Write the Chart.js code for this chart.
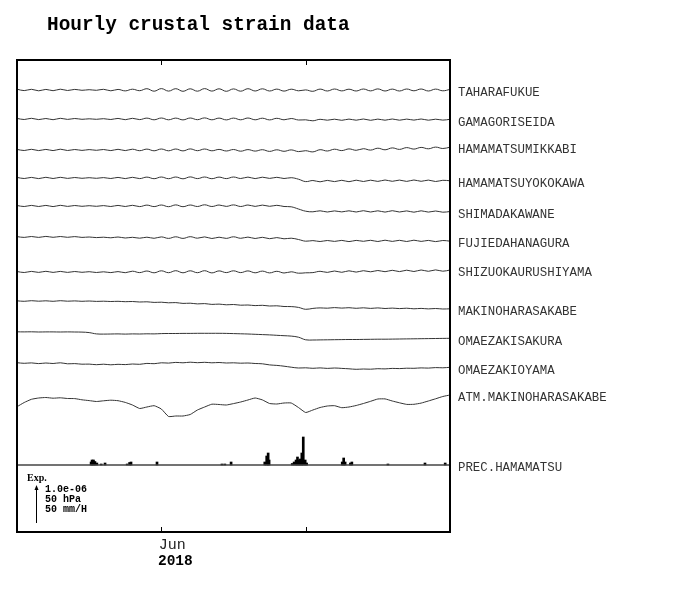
<!DOCTYPE html>
<html>
<head>
<meta charset="utf-8">
<title>Hourly crustal strain data</title>
<script src="https://cdn.jsdelivr.net/npm/chart.js@4.4.0/dist/chart.umd.min.js"></script>
<style>
  body { margin: 0; background: #fff; }
  #wrap { width: 700px; height: 590px; }
</style>
</head>
<body>
<div id="wrap"><canvas id="strainChart" width="700" height="590"></canvas></div>
<script>
// ---------- data ----------
const chartTitle = 'Hourly crustal strain data';
const xMin = 0, xMax = 90;          // days
const xTicks = [30, 60];
const monthLabel = 'Jun';
const yearLabel = '2018';
const scaleLabels = ['1.0e-06', '50 hPa', '50 mm/H'];
const scaleLength = 38;             // one scale arrow, in plot units

const days = [0,1.5,3,4.5,6,7.5,9,10.5,12,13.5, 15,16.5,18,19.5,21,22.5,24,25.5,27,28.5,
  30,31.5,33,34.5,36,37.5,39,40.5,42,43.5, 45,46.5,48,49.5,51,52.5,54,55.5,57,58.5,
  60,61.5,63,64.5,66,67.5,69,70.5,72,73.5, 75,76.5,78,79.5,81,82.5,84,85.5,87,88.5, 90];

const stations = ['TAHARAFUKUE', 'GAMAGORISEIDA', 'HAMAMATSUMIKKABI', 'HAMAMATSUYOKOKAWA',
  'SHIMADAKAWANE', 'FUJIEDAHANAGURA', 'SHIZUOKAURUSHIYAMA', 'MAKINOHARASAKABE',
  'OMAEZAKISAKURA', 'OMAEZAKIOYAMA', 'ATM.MAKINOHARASAKABE'];
// trace levels (offset of each trace in the stack)
const traceLevels = [442, 413, 382, 354, 326, 295, 260, 231, 200, 169, 134];

const taharafukue = [0.8,-0.6,0.7,-0.8,0.6,-0.7,0.8,-0.5,0.6,-0.3,
  0.3,-0.3,0.7,-0.8,0.6,-0.9,0.8,-0.7,1.3,-1.2,
  1.4,-1.1,1.3,-1.3,1.2,-1.2,1.4,-1.1,1.2,-1.3,
  1.1,-1.2,1.3,-1.0,1.2,-1.0,0.9,-1.1,0.8,-0.8,
  0.1,-1.3,0.9,-1.0,1.0,-0.9,0.8,-1.0,1.0,-0.9,
  1.1,-1.0,0.9,-1.0,1.0,-0.8,1.0,-1.0,0.9,-0.8, 0.6];
const gamagoriseida = [0.6,-0.5,0.7,-0.6,0.5,-0.7,0.7,-0.4,0.5,-0.3,
  0.2,-0.3,0.3,-0.5,0.6,-0.7,0.7,-0.6,0.9,-0.8,
  1.0,-0.8,0.9,-0.9,1.0,-0.7,1.1,-0.8,0.9,-0.9,
  0.9,-0.8,1.0,-0.8,0.8,-0.9,0.7,-0.8,0.5,-1.0,
  -0.8,-1.8,-0.3,-1.2,-0.2,-1.3,-0.1,-1.2,0.0,-1.3,
  -0.1,-1.2,0.0,-1.2,-0.1,-1.1,0.0,-1.2,-0.2,-1.1, -0.3];
const mikkabi = [0.6,-0.5,0.7,-0.6,0.6,-0.6,0.8,-0.5,0.5,-0.4,
  0.4,-0.3,0.5,-0.6,0.7,-0.6,0.8,-0.7,0.9,-0.8,
  1.0,-0.8,1.0,-0.9,1.1,-0.7,1.0,-0.8,0.6,-1.0,
  0.5,-1.2,0.4,-1.1,0.3,-1.4,0.2,-1.3,0.1,-1.6,
  -0.7,-1.9,0.3,-1.0,0.8,-0.6,1.1,-0.3,1.3,-0.1,
  1.8,0.2,2.1,0.6,2.4,0.9,2.6,1.2,2.9,1.5, 2.8];
const yokokawa = [0.6,-0.5,0.6,-0.6,0.7,-0.5,0.7,-0.4,0.5,-0.3,
  0.3,-0.3,0.4,-0.5,0.6,-0.6,0.7,-0.6,0.9,-0.7,
  1.0,-0.7,1.0,-0.8,1.1,-0.6,1.0,-0.7,0.9,-0.6,
  1.0,-0.5,0.9,-0.6,0.8,-0.4,0.7,-0.5,0.3,-1.2,
  -3.6,-2.5,-3.8,-2.4,-3.6,-2.3,-3.7,-2.2,-3.5,-2.2,
  -3.4,-2.0,-3.3,-2.1,-3.4,-2.0,-3.3,-2.1,-3.5,-2.3, -2.8];
const shimada = [0.5,-0.5,0.6,-0.5,0.6,-0.6,0.7,-0.4,0.5,-0.3,
  0.3,-0.3,0.4,-0.5,0.6,-0.5,0.7,-0.6,0.9,-0.6,
  1.0,-0.7,1.1,-0.7,1.0,-0.5,1.2,-0.5,1.0,-0.4,
  1.1,-0.5,1.0,-0.4,0.9,-0.3,0.7,-0.5,-0.8,-3.0,
  -5.2,-5.8,-4.8,-6.0,-4.9,-5.9,-4.8,-6.0,-4.7,-6.0,
  -4.8,-6.1,-4.7,-6.0,-4.9,-6.2,-4.8,-6.1,-5.0,-6.2, -5.5];
const fujieda = [0.4,-0.4,0.5,-0.4,0.6,-0.3,0.5,-0.3,0.4,-0.4,
  0.0,-0.6,-0.2,-0.8,0.0,-1.0,-0.3,-1.2,-0.2,-1.3,
  0.1,-1.4,0.2,-1.4,0.3,-1.2,0.1,-1.5,-0.2,-1.4,
  0.2,-1.3,-0.1,-1.5,-0.3,-1.7,-0.6,-1.8,-1.2,-2.5,
  -4.2,-3.6,-4.5,-3.5,-4.4,-3.4,-4.6,-3.4,-4.3,-3.3,
  -4.5,-3.2,-4.4,-3.3,-4.5,-3.2,-4.4,-3.4,-4.6,-3.5, -4.2];
const urushiyama = [0.5,-0.5,0.6,-0.4,0.7,-0.4,0.6,-0.4,0.5,-0.3,
  0.3,-0.5,0.2,-0.6,0.4,-0.7,0.8,-0.6,1.0,-0.8,
  1.2,-0.7,1.3,-0.8,1.2,-0.7,1.3,-0.9,1.1,-0.6,
  1.2,-0.6,1.1,-0.8,0.9,-0.9,0.7,-1.0,0.2,-1.2,
  -0.8,-0.6,0.7,-0.4,1.0,-0.3,1.2,-0.1,1.3,0.2,
  1.5,0.3,1.7,0.4,1.8,0.5,2.0,0.7,2.1,0.8, 2.0];
const makinohara = [0.2,-0.3,0.3,-0.2,0.2,-0.3,0.3,-0.2,0.1,-0.3,
  0.0,-0.4,-0.2,-0.5,-0.3,-0.7,-0.5,-1.0,-0.8,-1.4,
  -1.2,-1.8,-1.6,-2.4,-2.2,-2.9,-2.6,-3.4,-3.1,-3.8,
  -3.5,-4.2,-4.0,-4.6,-4.3,-5.0,-4.8,-5.5,-5.6,-6.4,
  -8.3,-7.4,-6.9,-7.2,-6.6,-7.1,-6.7,-7.3,-6.8,-7.4,
  -6.9,-7.5,-7.1,-7.6,-7.2,-7.8,-7.4,-7.9,-7.5,-8.0, -7.8];
const sakura = [0.2,0.1,0.2,0.0,0.1,0.1,0.0,0.1,0.0,-0.1,
  -0.6,-1.9,-2.1,-2.0,-1.9,-2.1,-1.9,-2.0,-1.8,-1.9,
  -1.6,-1.5,-1.5,-1.4,-1.4,-1.3,-1.3,-1.3,-1.3,-1.4,
  -1.6,-1.8,-2.0,-2.3,-2.6,-2.9,-3.3,-3.7,-4.1,-5.2,
  -7.8,-8.0,-7.9,-7.8,-7.7,-7.6,-7.5,-7.5,-7.4,-7.3,
  -7.2,-7.2,-7.1,-7.0,-6.9,-6.8,-6.7,-6.6,-6.5,-6.4, -6.3];
const oyama = [0.3,-0.3,0.1,-0.6,0.0,-0.5,0.2,-0.8,-0.6,-1.2,
  -1.1,-1.7,-1.2,-1.8,-1.3,-1.6,-1.0,-1.3,-0.4,-0.7,
  0.2,-0.1,0.6,0.2,0.8,0.3,0.7,0.2,0.5,0.0,
  0.2,-0.2,0.0,-0.5,-0.8,-1.9,-2.4,-3.2,-4.2,-5.0,
  -4.8,-5.3,-4.9,-5.4,-5.0,-5.4,-5.8,-6.3,-6.0,-6.2,
  -5.7,-5.9,-5.4,-5.6,-5.2,-5.3,-4.9,-5.1,-4.6,-4.8, -4.3];
const atmPressure = [-8.7,-4.5,-1.3,0,0.5,-0.2,0.2,-0.5,-0.6,-1.8,
  -2.6,-3.5,-2.8,-2.2,-2.7,-4.4,-7,-10.5,-9,-7.7,
  -11,-18.5,-18,-18,-16.5,-12,-9,-6.2,-6.5,-7,
  -5.6,-4,-2,0,-1.9,-5.5,-6,-5,-5,-9.5,
  -14.5,-12,-9.5,-8,-7.7,-9.7,-9,-7.5,-5.5,-3.3,
  -1,-0.9,-3,-4.8,-6.4,-6.3,-5.1,-3,-0.8,1.5, 3];

const strainSeries = [taharafukue, gamagoriseida, mikkabi, yokokawa, shimada,
  fujieda, urushiyama, makinohara, sakura, oyama, atmPressure];

// precipitation (hourly, Hamamatsu)
const precName = 'PREC.HAMAMATSU';
const precLevel = 67;
const precDays = [15.4,15.6,15.9,16.2,16.6,17.5,18.3,22.9,23.4,23.7,
  29.1,42.6,43.2,44.5,51.5,51.9,52.2,52.4,57.2,57.6,
  58.0,58.3,58.6,58.9,59.2,59.5,59.9,60.2,67.6,67.9,
  68.2,69.3,69.6,77.1,84.8,89.0];
const precValues = [3,5,5,3.5,2,1,2,1,2.5,3,
  3,1,1,3,3,9,12,5,1.5,3,
  5,8,5,6,12,28,5,2,3,7,
  3,2,3,1,2,2];

// ---------- datasets ----------
const datasets = strainSeries.map((vals, k) => ({
  label: stations[k],
  data: vals.map((v, i) => ({ x: days[i], y: traceLevels[k] + v })),
  borderColor: '#333',
  borderWidth: 1,
  pointRadius: 0,
  tension: k === 10 ? 0.15 : 0.4,
  fill: false
}));
datasets.push({
  label: precName,
  data: [{ x: xMin, y: precLevel }, { x: xMax, y: precLevel }],
  borderColor: '#444',
  borderWidth: 1.5,
  pointRadius: 0
});
datasets.push({
  type: 'bar',
  label: '',
  data: precDays.map((d, i) => ({ x: d, y: [precLevel, precLevel + precValues[i]] })),
  backgroundColor: '#000',
  barThickness: 2,
  grouped: false
});

// ---------- frame, labels, scale ----------
const decorations = {
  id: 'decorations',
  afterDatasetsDraw(chart) {
    const { ctx, chartArea: a, scales: { x, y } } = chart;
    ctx.save();

    // frame
    ctx.strokeStyle = '#000';
    ctx.lineWidth = 2;
    ctx.strokeRect(a.left, a.top, a.right - a.left, a.bottom - a.top);

    // inner ticks top & bottom
    ctx.lineWidth = 1;
    xTicks.forEach(v => {
      const px = Math.round(x.getPixelForValue(v)) + 0.5;
      ctx.beginPath();
      ctx.moveTo(px, a.top); ctx.lineTo(px, a.top + 5);
      ctx.moveTo(px, a.bottom); ctx.lineTo(px, a.bottom - 5);
      ctx.stroke();
    });

    // station names at the end of each trace
    ctx.fillStyle = '#333';
    ctx.font = '12.4px "Liberation Mono", monospace';
    ctx.textAlign = 'left';
    ctx.textBaseline = 'middle';
    chart.data.datasets.forEach((ds, i) => {
      if (!ds.label) return;
      const pts = chart.getDatasetMeta(i).data;
      const last = pts[pts.length - 1];
      ctx.fillText(ds.label, a.right + 8, last.y + 3);
    });

    // title
    ctx.fillStyle = '#000';
    ctx.font = 'bold 19.4px "Liberation Mono", monospace';
    ctx.textBaseline = 'alphabetic';
    ctx.fillText(chartTitle, 47, 30);

    // month / year under the first tick
    const t0 = x.getPixelForValue(xTicks[0]);
    ctx.textAlign = 'center';
    ctx.textBaseline = 'middle';
    ctx.fillStyle = '#222';
    ctx.font = '15px "Liberation Mono", monospace';
    ctx.fillText(monthLabel, t0 + 11, a.bottom + 13);
    ctx.fillStyle = '#000';
    ctx.font = 'bold 14.5px "Liberation Mono", monospace';
    ctx.fillText(yearLabel, t0 + 14, a.bottom + 29);

    // amplitude scale (arrow = 1.0e-06 / 50 hPa / 50 mm/H)
    const arrowX = a.left + 19.5;
    const arrowBottom = a.bottom - 9;
    const arrowTop = arrowBottom - (y.getPixelForValue(0) - y.getPixelForValue(scaleLength));
    ctx.strokeStyle = '#000';
    ctx.lineWidth = 1;
    ctx.beginPath();
    ctx.moveTo(arrowX, arrowBottom); ctx.lineTo(arrowX, arrowTop + 3);
    ctx.stroke();
    ctx.beginPath();
    ctx.moveTo(arrowX, arrowTop);
    ctx.lineTo(arrowX - 2, arrowTop + 5);
    ctx.lineTo(arrowX + 2, arrowTop + 5);
    ctx.closePath();
    ctx.fill();

    ctx.textAlign = 'left';
    ctx.font = 'bold 10px "Liberation Serif", serif';
    ctx.fillText('Exp.', a.left + 10, a.bottom - 54);
    ctx.font = 'bold 10px "Liberation Mono", monospace';
    scaleLabels.forEach((s, i) => {
      ctx.fillText(s, a.left + 28, arrowTop + 4 + i * 10);
    });

    ctx.restore();
  }
};

new Chart(document.getElementById('strainChart'), {
  type: 'line',
  data: { datasets },
  options: {
    responsive: false,
    animation: false,
    layout: { padding: { left: 17, top: 60, right: 250, bottom: 58 } },
    scales: {
      x: { type: 'linear', min: xMin, max: xMax, offset: false, display: false },
      y: { min: 0, max: 472, display: false }
    },
    plugins: {
      legend: { display: false },
      tooltip: { enabled: false }
    }
  },
  plugins: [decorations]
});
</script>
</body>
</html>
